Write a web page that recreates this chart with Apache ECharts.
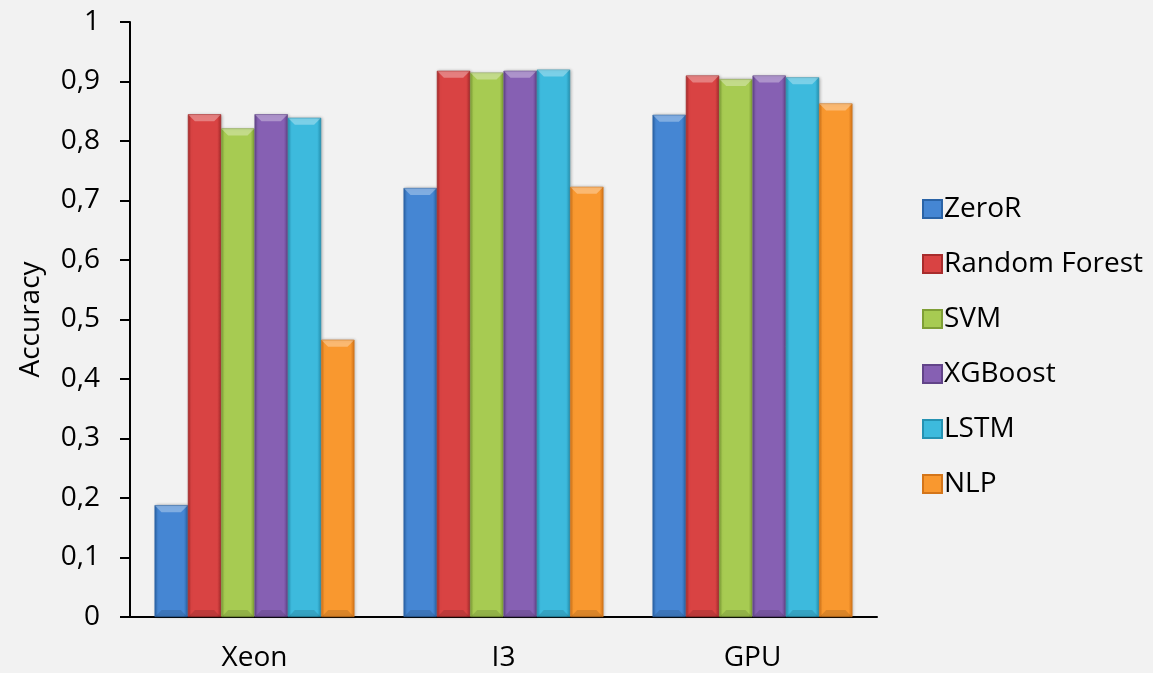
<!DOCTYPE html>
<html>
<head>
<meta charset="utf-8">
<script src="https://cdn.jsdelivr.net/npm/echarts@6/dist/echarts.min.js"></script>
<style>
html,body{margin:0;padding:0;background:#f2f2f2;}
#c{width:1153px;height:673px;}
</style>
</head>
<body>
<div id="c"></div>
<script>
const categories = ['Xeon', 'I3', 'GPU'];
const seriesNames = ['ZeroR', 'Random Forest', 'SVM', 'XGBoost', 'LSTM', 'NLP'];
const zeroR = [0.188, 0.721, 0.844];
const randomForest = [0.845, 0.918, 0.910];
const svm = [0.821, 0.915, 0.904];
const xgboost = [0.845, 0.918, 0.910];
const lstm = [0.839, 0.920, 0.907];
const nlp = [0.466, 0.723, 0.863];
const yTicks = [0, 0.1, 0.2, 0.3, 0.4, 0.5, 0.6, 0.7, 0.8, 0.9, 1];

const values = [zeroR, randomForest, svm, xgboost, lstm, nlp];
const palette = [
  ['#2f6db5', '#4586d3', '#2a63a6'],
  ['#b83030', '#d94343', '#a82c2c'],
  ['#8aae3c', '#a7cb52', '#7f9f36'],
  ['#6c4b96', '#8660b3', '#624489'],
  ['#2aa0c2', '#3dbadd', '#2592b2'],
  ['#e37f1c', '#f9982f', '#d47519']
];
const GAP = 0.197;
function grad(p) {
  return new echarts.graphic.LinearGradient(0, 0, 1, 0, [
    {offset: 0, color: p[2]},
    {offset: 0.1, color: p[1]},
    {offset: 0.88, color: p[1]},
    {offset: 1, color: p[2]}
  ]);
}
const font = '"Open Sans", "Noto Sans", sans-serif';
const barSeries = seriesNames.map((n, i) => ({
  name: n,
  type: 'bar',
  data: values[i],
  barGap: '0%',
  barCategoryGap: (GAP * 100) + '%',
  itemStyle: {
    color: grad(palette[i]),
    borderColor: palette[i][2],
    borderWidth: 0.6,
    shadowColor: 'rgba(0,0,0,0.25)',
    shadowBlur: 3,
    shadowOffsetX: 1
  }
}));
const n = seriesNames.length;
const bevelSeries = seriesNames.map((name, i) => ({
  type: 'custom',
  silent: true,
  z: 5,
  data: values[i].map((v, k) => [k, v]),
  renderItem: function (params, api) {
    const top = api.coord([api.value(0), api.value(1)]);
    const base = api.coord([api.value(0), 0]);
    const cw = api.size([1, 0])[0];
    const gw = cw * (1 - GAP);
    const bw = gw / n;
    const x0 = top[0] - gw / 2 + i * bw;
    const x1 = x0 + bw;
    const y = top[1];
    const d = 7;
    return {
      type: 'group',
      children: [
        {
          type: 'polygon',
          shape: {points: [[x0 + 0.5, y + 0.5], [x1 - 0.5, y + 0.5], [x1 - d, y + d], [x0 + d, y + d]]},
          style: {fill: 'rgba(255,255,255,0.32)'}
        },
        {
          type: 'polygon',
          shape: {points: [[x0 + d, base[1] - d], [x1 - d, base[1] - d], [x1 - 0.5, base[1]], [x0 + 0.5, base[1]]]},
          style: {fill: 'rgba(0,0,0,0.12)'}
        }
      ]
    };
  }
}));

const chart = echarts.init(document.getElementById('c'));
chart.setOption({
  backgroundColor: '#f2f2f2',
  animation: false,
  color: palette.map(p => p[1]),
  textStyle: {fontFamily: font},
  grid: {left: 130, right: 276, top: 22, bottom: 56},
  legend: {
    orient: 'vertical',
    left: 917,
    top: 190,
    itemWidth: 19,
    itemHeight: 18,
    itemGap: 27,
    icon: 'rect',
    textStyle: {fontSize: 28, color: '#000', fontFamily: font, padding: [0, 0, 0, -3]},
    data: seriesNames
  },
  xAxis: {
    type: 'category',
    data: categories,
    axisLine: {lineStyle: {color: '#000', width: 2}},
    axisTick: {show: false},
    axisLabel: {fontSize: 28, color: '#000', margin: 27, fontFamily: font}
  },
  yAxis: {
    type: 'value',
    min: 0,
    max: 1,
    interval: 0.1,
    name: 'Accuracy',
    nameLocation: 'middle',
    nameGap: 85,
    nameTextStyle: {fontSize: 28, color: '#000', fontFamily: font},
    axisLine: {show: true, lineStyle: {color: '#000', width: 2}},
    axisTick: {show: true, length: 10, lineStyle: {color: '#000', width: 2}},
    splitLine: {show: false},
    axisLabel: {
      fontSize: 28, color: '#000', margin: 30, fontFamily: font,
      formatter: v => {
        const t = yTicks.find(x => Math.abs(x - v) < 1e-9);
        return String(t !== undefined ? t : v).replace('.', ',');
      }
    }
  },
  series: barSeries.concat(bevelSeries)
});
</script>
</body>
</html>
